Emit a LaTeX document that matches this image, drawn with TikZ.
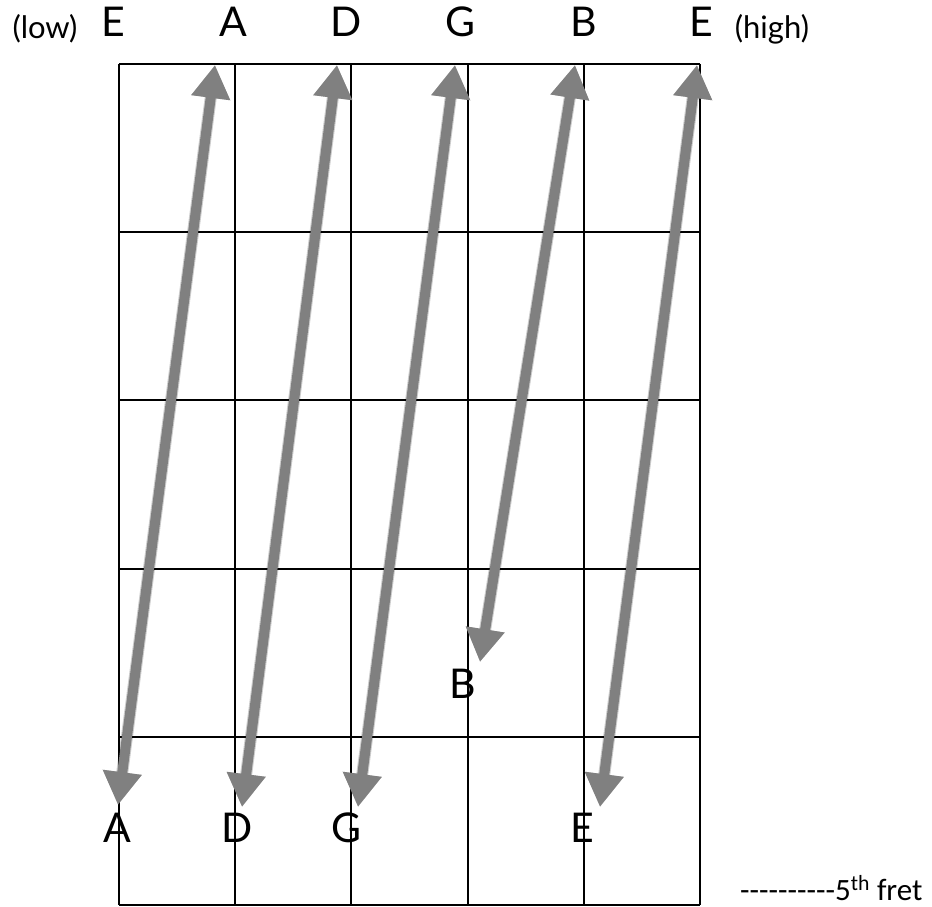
\documentclass[tikz,border=0pt]{standalone}
\usepackage{fontspec}
\setmainfont{Lato}
\newfontfamily\fretfont{Carlito}
\usetikzlibrary{arrows.meta}
\definecolor{arrowgray}{RGB}{128,128,128}
\begin{document}
\begin{tikzpicture}[x=1pt,y=-1pt,
  gridline/.style={line width=2pt,draw=black},
  note/.style={font=\fontsize{41}{41}\selectfont, anchor=base, inner sep=0pt},
  side/.style={font=\fontsize{31}{31}\selectfont, anchor=base, inner sep=0pt},
  fretnote/.style={font=\fretfont\fontsize{31}{31}\selectfont, anchor=base west, inner sep=0pt},
  tipboth/.style={{Triangle[length=33pt,width=37pt]}-{Triangle[length=33pt,width=37pt]}},
  jump/.style={tipboth, line width=10pt, draw=arrowgray, fill=arrowgray},
  jumpshadow/.style={tipboth, line width=12pt, draw=black, fill=black, opacity=0.10}]
\useasboundingbox (0,0) rectangle (932,907);

% grid
\foreach \i in {0,...,5} {
  \draw[gridline] ({119+116.2*\i},64) -- ({119+116.2*\i},905);
  \draw[gridline] (119,{64+168.2*\i}) -- (700,{64+168.2*\i});
}

% top labels
\node[side] (low) at (45,39) {(low)};
\node[note] (tE1) at (113,37) {E};
\node[note] (tA) at (233,37) {A};
\node[note] (tD) at (346,37) {D};
\node[note] (tG) at (460,37) {G};
\node[note] (tB) at (584,37) {B};
\node[note] (tE2) at (701,37) {E};
\node[side] (high) at (772,39) {(high)};

% arrow end points
\coordinate (a1) at (215,65);  \coordinate (b1) at (118,805);
\coordinate (a2) at (337,65);  \coordinate (b2) at (242,807);
\coordinate (a3) at (455,65);  \coordinate (b3) at (358,807);
\coordinate (a4) at (575,65);  \coordinate (b4) at (480,662);
\coordinate (a5) at (697,65);  \coordinate (b5) at (600,807);

% shadows
\foreach \s in {(3,4),(5,6)} {
  \foreach \n in {1,...,5} {
    \draw[jumpshadow, shift={\s}] (a\n) -- (b\n);
  }
}
% arrows
\foreach \n in {1,...,5} {
  \draw[jump] (a\n) -- (b\n);
}

% bottom labels
\node[note] (bA) at (117,842) {A};
\node[note] (bD) at (237,842) {D};
\node[note] (bG) at (346,842) {G};
\node[note] (bB) at (463,698) {B};
\node[note] (bE) at (582,842) {E};

\node[fretnote] (fret) at (740,900) {----------5\textsuperscript{th} fret};
\end{tikzpicture}
\end{document}
